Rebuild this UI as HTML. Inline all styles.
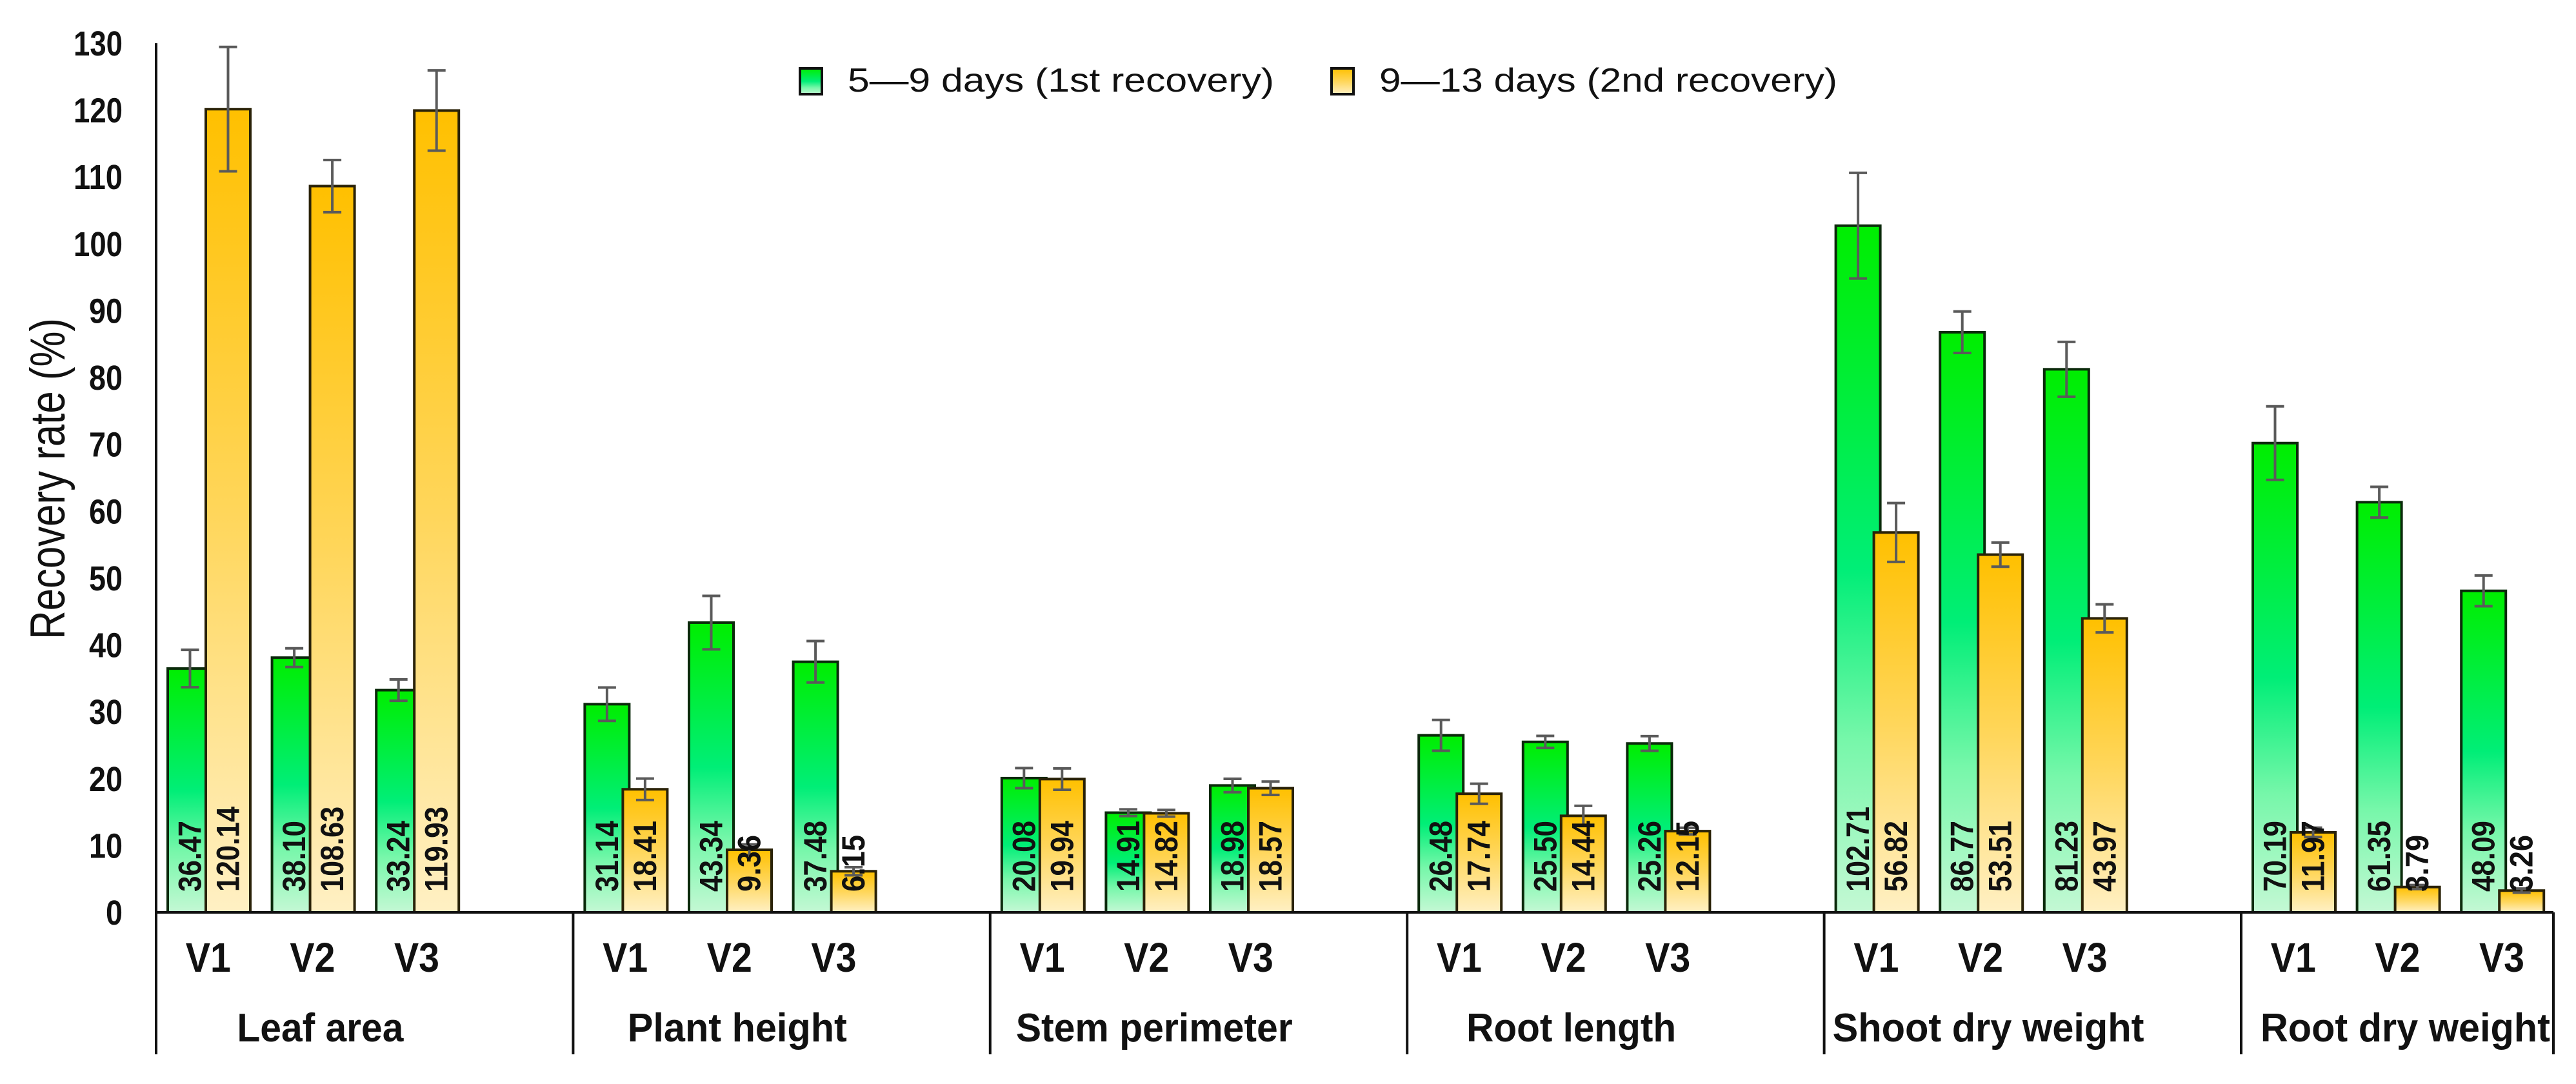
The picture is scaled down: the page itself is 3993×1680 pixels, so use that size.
<!DOCTYPE html>
<html><head><meta charset="utf-8"><style>
html,body{margin:0;padding:0;background:#fff;}
svg{display:block;font-family:"Liberation Sans",Arial,sans-serif;}
</style></head><body>
<svg id="chart" width="3993" height="1680" viewBox="0 0 3993 1680" xmlns="http://www.w3.org/2000/svg">
<defs>
<linearGradient id="gGreen" x1="0" y1="0" x2="0" y2="1">
<stop offset="0" stop-color="#00ee00"/><stop offset="0.5" stop-color="#00ee77"/><stop offset="0.75" stop-color="#77f7aa"/><stop offset="1" stop-color="#c4f8d4"/>
</linearGradient>
<linearGradient id="gYellow" x1="0" y1="0" x2="0" y2="1">
<stop offset="0" stop-color="#ffc000"/><stop offset="0.5" stop-color="#ffd65a"/><stop offset="1" stop-color="#fff0c4"/>
</linearGradient>
</defs>
<g id="plot"></g>
</svg>
<script>
const groups = ["Leaf area","Plant height","Stem perimeter","Root length","Shoot dry weight","Root dry weight"];
const varieties = ["V1","V2","V3"];
const firstRecovery = [36.47,38.10,33.24, 31.14,43.34,37.48, 20.08,14.91,18.98, 26.48,25.50,25.26, 102.71,86.77,81.23, 70.19,61.35,48.09];
const secondRecovery = [120.14,108.63,119.93, 18.41,9.36,6.15, 19.94,14.82,18.57, 17.74,14.44,12.15, 56.82,53.51,43.97, 11.97,3.79,3.26];
const firstErr = [2.8,1.4,1.6, 2.5,4.0,3.1, 1.5,0.5,1.0, 2.3,0.9,1.1, 7.9,3.1,4.1, 5.5,2.3,2.3];
const secondErr = [9.3,3.9,6.0, 1.6,0.8,0.6, 1.6,0.5,1.0, 1.5,1.5,0.5, 4.4,1.8,2.1, 0.7,0.3,0.3];
const yTicks = [0,10,20,30,40,50,60,70,80,90,100,110,120,130];
const groupLabelWidths = [258,340,429,325,483,449];

const NS = "http://www.w3.org/2000/svg";
const g = document.getElementById("plot");
const X0 = 242, XEND = 3958, SLOT = 161.6, BASE = 1414, TOPV = 130, TOPY = 67;
function y(v){ return BASE - v*(BASE-TOPY)/TOPV; }
function slotX(gi, k){ return X0 + (gi*4 + k)*SLOT; }
function el(tag, attrs, parent){ const e=document.createElementNS(NS,tag); for(const k in attrs) e.setAttribute(k,attrs[k]); (parent||g).appendChild(e); return e; }

yTicks.forEach(t=>{
  const e = el("text",{x:190,y:y(t)+19,"text-anchor":"end","font-size":54,"font-weight":"bold",fill:"#111",textLength:t>=100?76:(t>0?52:26),lengthAdjust:"spacingAndGlyphs"});
  e.textContent = t;
  
  
});
const yt = el("text",{x:0,y:0,transform:"translate(100,742) rotate(-90)","text-anchor":"middle","font-size":76,fill:"#111",textLength:498,lengthAdjust:"spacingAndGlyphs"});
yt.textContent = "Recovery rate (%)";



function bar(gi,k,val,err,series){
  const bx = slotX(gi,k) + (series===0?18:77);
  const w = 69, top = y(val);
  const r = el("rect",{x:bx,y:top,width:w,height:BASE-top,fill:series===0?"url(#gGreen)":"url(#gYellow)",stroke:series===0?"#0b2a0b":"#2a2208","stroke-width":4});
  
  
  const cx = bx + w/2;
  const eg = el("g",{stroke:"#5a5a5a","stroke-width":4});
  
  
  el("line",{x1:cx,x2:cx,y1:y(val+err),y2:y(val-err)},eg);
  el("line",{x1:cx-14,x2:cx+14,y1:y(val+err),y2:y(val+err)},eg);
  el("line",{x1:cx-14,x2:cx+14,y1:y(val-err),y2:y(val-err)},eg);
  const label = val.toFixed(2);
  const t = el("text",{x:0,y:0,transform:`translate(${cx+17},1382) rotate(-90)`,"font-size":50,"font-weight":"bold",fill:"#111",textLength:label.length*22,lengthAdjust:"spacingAndGlyphs"});
  t.textContent = label;
  
  
}
groups.forEach((name,gi)=>{
  varieties.forEach((v,k)=>{ bar(gi,k,firstRecovery[gi*3+k],firstErr[gi*3+k],0); });
  varieties.forEach((v,k)=>{ bar(gi,k,secondRecovery[gi*3+k],secondErr[gi*3+k],1); });
  varieties.forEach((v,k)=>{
    const t = el("text",{x:slotX(gi,k)+SLOT/2,y:1506,"text-anchor":"middle","font-size":64,"font-weight":"bold",fill:"#111",textLength:70,lengthAdjust:"spacingAndGlyphs"});
    t.textContent = v;
    
    
  });
  const gl = el("text",{x:slotX(gi,1)+SLOT/2+12,y:1614,"text-anchor":"middle","font-size":62,"font-weight":"bold",fill:"#111",textLength:groupLabelWidths[gi],lengthAdjust:"spacingAndGlyphs"});
  gl.textContent = name;
  
  
});

const ax = el("g",{stroke:"#111","stroke-width":4});


el("line",{x1:X0,x2:X0,y1:TOPY,y2:1634},ax);
el("line",{x1:X0,x2:XEND,y1:BASE,y2:BASE},ax);
for(let gi=1; gi<groups.length; gi++){
  el("line",{x1:X0+gi*4*SLOT,x2:X0+gi*4*SLOT,y1:BASE,y2:1634},ax);
}
el("line",{x1:XEND,x2:XEND,y1:BASE,y2:1634},ax);

const lg = el("g",{});


const s1 = el("rect",{x:1240,y:106,width:34,height:40,fill:"url(#gGreen)",stroke:"#111","stroke-width":4},lg);


const t1 = el("text",{x:1314,y:142,"font-size":52,fill:"#111",textLength:661,lengthAdjust:"spacingAndGlyphs"},lg);
t1.textContent = "5\u20149 days (1st recovery)";


const s2 = el("rect",{x:2064,y:106,width:34,height:40,fill:"url(#gYellow)",stroke:"#111","stroke-width":4},lg);


const t2 = el("text",{x:2138,y:142,"font-size":52,fill:"#111",textLength:710,lengthAdjust:"spacingAndGlyphs"},lg);
t2.textContent = "9\u201413 days (2nd recovery)";


</script>
</body></html>
